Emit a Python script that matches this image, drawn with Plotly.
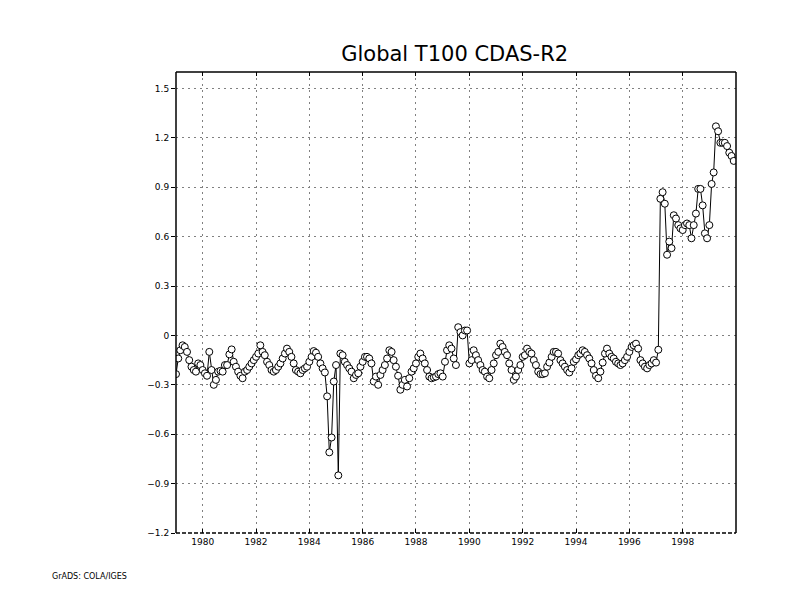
import plotly.graph_objects as go

title_text = "Global T100 CDAS-R2"
footer_text = "GrADS: COLA/IGES"

start_year = 1979
# monthly values, Jan 1979 .. Dec 1999
y1979 = [-0.235, -0.14, -0.09, -0.06, -0.07, -0.10, -0.15, -0.19, -0.21, -0.22, -0.17, -0.18]
y1980 = [-0.21, -0.23, -0.245, -0.10, -0.21, -0.30, -0.27, -0.22, -0.215, -0.22, -0.18, -0.18]
y1981 = [-0.115, -0.085, -0.16, -0.19, -0.22, -0.245, -0.26, -0.22, -0.21, -0.19, -0.17, -0.15]
y1982 = [-0.13, -0.11, -0.06, -0.10, -0.12, -0.16, -0.18, -0.21, -0.22, -0.21, -0.19, -0.17]
y1983 = [-0.14, -0.11, -0.08, -0.10, -0.13, -0.17, -0.21, -0.22, -0.23, -0.21, -0.20, -0.19]
y1984 = [-0.16, -0.13, -0.095, -0.105, -0.13, -0.17, -0.20, -0.225, -0.37, -0.71, -0.62, -0.28]
y1985 = [-0.18, -0.85, -0.11, -0.12, -0.16, -0.18, -0.20, -0.22, -0.26, -0.24, -0.23, -0.19]
y1986 = [-0.16, -0.13, -0.13, -0.14, -0.17, -0.28, -0.25, -0.30, -0.24, -0.21, -0.18, -0.14]
y1987 = [-0.09, -0.10, -0.15, -0.19, -0.245, -0.33, -0.30, -0.27, -0.31, -0.26, -0.22, -0.20]
y1988 = [-0.17, -0.13, -0.11, -0.14, -0.17, -0.21, -0.25, -0.26, -0.255, -0.25, -0.235, -0.23]
y1989 = [-0.25, -0.16, -0.09, -0.06, -0.08, -0.14, -0.18, 0.05, 0.02, 0.00, 0.03, 0.03]
y1990 = [-0.17, -0.15, -0.09, -0.12, -0.15, -0.18, -0.21, -0.22, -0.25, -0.26, -0.21, -0.17]
y1991 = [-0.12, -0.10, -0.05, -0.07, -0.10, -0.12, -0.17, -0.21, -0.27, -0.25, -0.21, -0.18]
y1992 = [-0.13, -0.12, -0.08, -0.10, -0.11, -0.15, -0.18, -0.22, -0.235, -0.235, -0.23, -0.19]
y1993 = [-0.165, -0.13, -0.10, -0.10, -0.11, -0.15, -0.17, -0.19, -0.21, -0.225, -0.20, -0.16]
y1994 = [-0.145, -0.12, -0.11, -0.09, -0.10, -0.12, -0.14, -0.17, -0.21, -0.245, -0.26, -0.22]
y1995 = [-0.165, -0.11, -0.08, -0.11, -0.13, -0.14, -0.16, -0.17, -0.18, -0.17, -0.15, -0.13]
y1996 = [-0.10, -0.07, -0.06, -0.05, -0.08, -0.15, -0.17, -0.19, -0.20, -0.18, -0.17, -0.15]
y1997 = [-0.165, -0.087, 0.83, 0.87, 0.80, 0.49, 0.57, 0.53, 0.73, 0.71, 0.67, 0.65]
y1998 = [0.64, 0.67, 0.68, 0.67, 0.59, 0.67, 0.74, 0.89, 0.89, 0.79, 0.62, 0.59]
y1999 = [0.67, 0.92, 0.99, 1.27, 1.24, 1.17, 1.17, 1.17, 1.15, 1.11, 1.09, 1.06]

years = [y1979, y1980, y1981, y1982, y1983, y1984, y1985, y1986, y1987, y1988, y1989,
         y1990, y1991, y1992, y1993, y1994, y1995, y1996, y1997, y1998, y1999]

dates = []
values = []
for i, yr in enumerate(years):
    for mth, v in enumerate(yr):
        dates.append(f"{start_year + i}-{mth + 1:02d}-01")
        values.append(v)

y_ticks = [-1.2, -0.9, -0.6, -0.3, 0, 0.3, 0.6, 0.9, 1.2, 1.5]
y_tick_labels = ["\u22121.2", "\u22120.9", "\u22120.6", "\u22120.3", "0", "0.3", "0.6", "0.9", "1.2", "1.5"]
x_tick_years = list(range(1980, 2000, 2))
x_ticks = [f"{y}-01-01" for y in x_tick_years]
x_tick_labels = [str(y) for y in x_tick_years]

fig = go.Figure()
fig.add_trace(go.Scatter(
    x=dates, y=values, mode="lines+markers",
    line=dict(color="black", width=1),
    marker=dict(symbol="circle", size=7, color="white", line=dict(color="black", width=1)),
    cliponaxis=True, showlegend=False,
))

fig.update_layout(
    width=792, height=612,
    paper_bgcolor="white", plot_bgcolor="white",
    margin=dict(l=168, r=64, t=64, b=87),
    font=dict(family="DejaVu Sans", color="black", size=9),
    title=dict(text=title_text, xref="container", x=0.564, xanchor="center",
               yref="container", y=0.925, yanchor="middle",
               font=dict(family="DejaVu Sans", size=21, color="black")),
    xaxis=dict(
        range=["1979-01-01", "2000-01-01"],
        tickvals=x_ticks, ticktext=x_tick_labels,
        showgrid=True, gridcolor="#808080", griddash="2px,4px", gridwidth=1,
        showline=False, zeroline=False,
        ticks="inside", ticklen=4, tickcolor="black", mirror="ticks",
        tickfont=dict(size=9), ticklabelstandoff=2,
    ),
    yaxis=dict(
        range=[-1.2, 1.6],
        tickvals=y_ticks, ticktext=y_tick_labels,
        showgrid=True, gridcolor="#808080", griddash="2px,4px", gridwidth=1,
        showline=False, zeroline=False,
        ticks="outside", ticklen=4, tickcolor="black",
        tickfont=dict(size=9),
    ),
)

# frame: solid left/top/right, dashed bottom
fig.add_shape(type="line", xref="paper", yref="paper", x0=0, x1=0, y0=0, y1=1, line=dict(color="black", width=1.5))
fig.add_shape(type="line", xref="paper", yref="paper", x0=1, x1=1, y0=0, y1=1, line=dict(color="black", width=1.5))
fig.add_shape(type="line", xref="paper", yref="paper", x0=0, x1=1, y0=1, y1=1, line=dict(color="black", width=1.5))
fig.add_shape(type="line", xref="paper", yref="paper", x0=0, x1=1, y0=0, y1=0, line=dict(color="black", width=1.5, dash="4px,2px"))

fig.add_annotation(text=footer_text, xref="paper", yref="paper", x=-0.225, y=-0.095,
                   xanchor="left", yanchor="middle", showarrow=False,
                   font=dict(family="DejaVu Sans", size=8, color="black"))

fig.write_html("out.html")
